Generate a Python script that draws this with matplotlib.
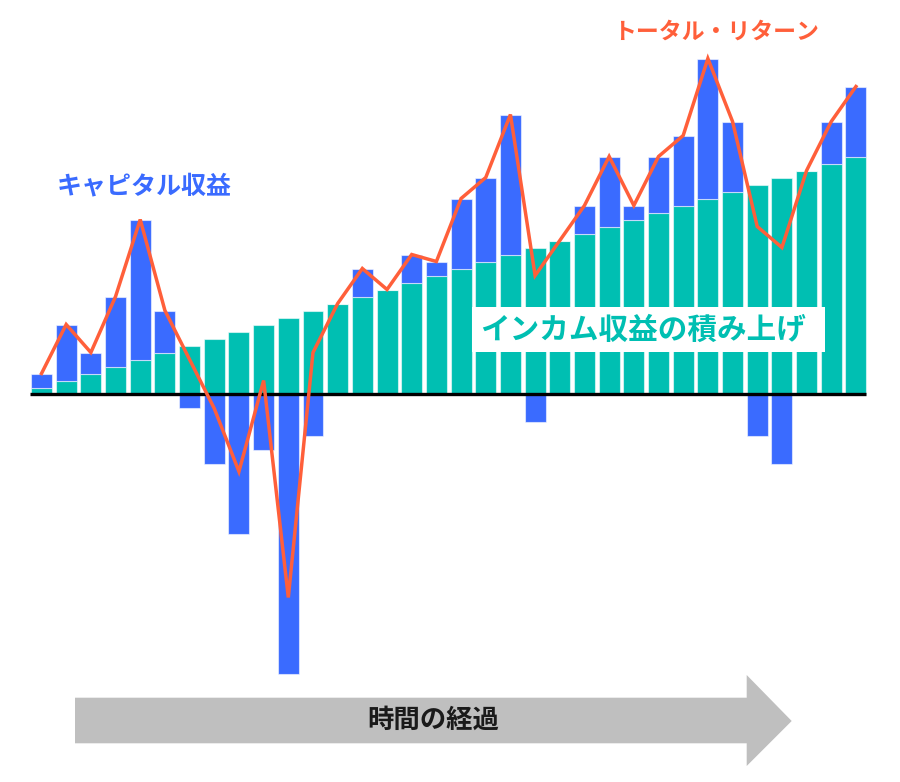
import matplotlib
matplotlib.use("Agg")
import matplotlib.pyplot as plt
from matplotlib.patches import Polygon, Rectangle
import numpy as np

plt.rcParams['font.family'] = ['Noto Sans CJK JP', 'DejaVu Sans']

# ---- data (arbitrary return units) ----
periods = list(range(34))
income = [0.5, 1.0, 1.5, 2.0, 2.5, 3.0, 3.5, 4.0, 4.5, 5.0, 5.5, 6.0,
          6.5, 7.0, 7.5, 8.0, 8.5, 9.0, 9.5, 10.0, 10.5, 11.0, 11.5, 12.0,
          12.5, 13.0, 13.5, 14.0, 14.5, 15.0, 15.5, 16.0, 16.5, 17.0]
capital = [1.0, 4.0, 1.5, 5.0, 10.0, 3.0, -1.0, -5.0, -10.0, -4.0, -20.0, -3.0,
           0.0, 2.0, 0.0, 2.0, 1.0, 5.0, 6.0, 10.0, -2.0, 0.0, 2.0, 5.0,
           1.0, 4.0, 5.0, 10.0, 5.0, -3.0, -5.0, 0.0, 3.0, 5.0]

label_capital = "キャピタル収益"
label_total = "トータル・リターン"
label_income = "インカム収益の積み上げ"
label_time = "時間の経過"

TEAL = "#00BFB2"
BLUE = "#3A6BFF"
ORANGE = "#FF5F3A"
GRAY = "#BFBFBF"

x = np.array(periods, dtype=float)
inc = np.array(income)
cap = np.array(capital)
total = inc + cap
cap_bottom = np.where(cap >= 0, inc, 0.0)

fig = plt.figure(figsize=(9, 7.82), dpi=100)
ax = fig.add_axes([0, 0, 1, 1])
ax.set_xlim(-1.682, 34.785)
ax.set_ylim(-27.68, 28.18)
ax.axis('off')

edge = (1, 1, 1, 0.55)
ax.bar(x, inc, width=0.85, color=TEAL, edgecolor=edge, linewidth=0.8, zorder=2)
ax.bar(x, cap, bottom=cap_bottom, width=0.85, color=BLUE, edgecolor=edge,
       linewidth=0.8, zorder=2)
ax.hlines(0, x[0] - 0.47, x[-1] + 0.42, color='black', linewidth=2.4, zorder=3)
ax.plot(x, total, color=ORANGE, linewidth=2.5, zorder=5, solid_joinstyle='miter')

# ---- overlay in pixel coordinates for annotations ----
ov = fig.add_axes([0, 0, 1, 1])
ov.set_xlim(0, 900)
ov.set_ylim(782, 0)
ov.axis('off')
ov.patch.set_alpha(0)

ov.add_patch(Rectangle((472, 307), 353, 45, facecolor='white', edgecolor='none', zorder=4))
ov.text(643, 330, label_income, color=TEAL, fontsize=21.3, fontweight='bold',
        ha='center', va='center', zorder=5)
ov.text(144, 186, label_capital, color=BLUE, fontsize=18, fontweight='bold',
        ha='center', va='center')
ov.text(716, 32, label_total, color=ORANGE, fontsize=16.5, fontweight='bold',
        ha='center', va='center')

arrow = Polygon([(75, 697.7), (746.7, 697.7), (746.7, 675), (791.7, 721),
                 (746.7, 766), (746.7, 743.3), (75, 743.3)],
                closed=True, facecolor=GRAY, edgecolor='none')
ov.add_patch(arrow)
ov.text(433, 720, label_time, color='#1A1A1A', fontsize=19, fontweight='bold',
        ha='center', va='center')

fig.savefig("out.png", dpi=100)
